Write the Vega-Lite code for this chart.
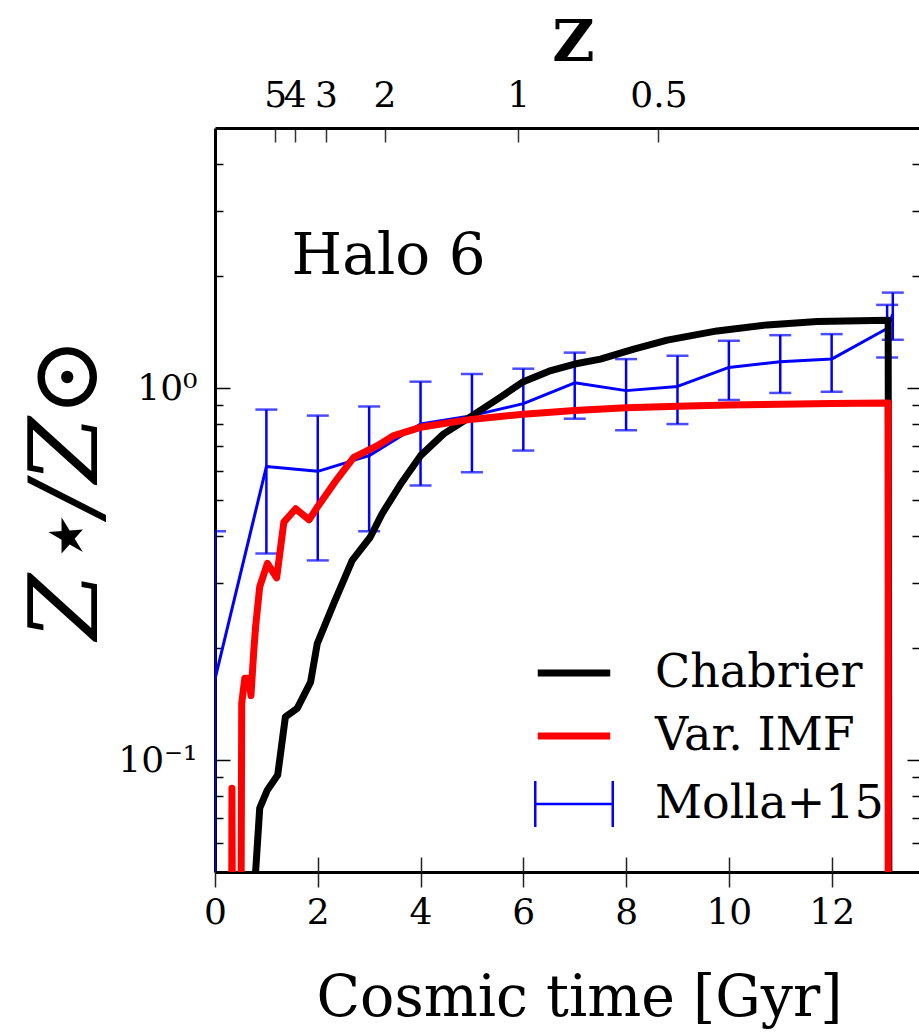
{
  "$schema": "https://vega.github.io/schema/vega-lite/v6.json",
  "width": 704,
  "height": 744,
  "autosize": {"type": "none"},
  "padding": {"left": 215, "top": 128, "right": 0, "bottom": 161},
  "background": "white",
  "config": {
    "view": {"stroke": null},
    "font": "DejaVu Serif",
    "axis": {"grid": false, "labelColor": "black", "titleColor": "black", "labelFont": "DejaVu Serif", "titleFont": "DejaVu Serif", "labelFlush": false, "labelOverlap": false, "titleFontWeight": "normal"}
  },
  "datasets": {
    "lines": [
      {"series": "Chabrier", "t": 0.75, "v": 0.02},
      {"series": "Chabrier", "t": 0.79, "v": 0.05},
      {"series": "Chabrier", "t": 0.87, "v": 0.0742},
      {"series": "Chabrier", "t": 1.02, "v": 0.0831},
      {"series": "Chabrier", "t": 1.22, "v": 0.0911},
      {"series": "Chabrier", "t": 1.37, "v": 0.1307},
      {"series": "Chabrier", "t": 1.6, "v": 0.1376},
      {"series": "Chabrier", "t": 1.86, "v": 0.162},
      {"series": "Chabrier", "t": 1.99, "v": 0.2056},
      {"series": "Chabrier", "t": 2.31, "v": 0.2633},
      {"series": "Chabrier", "t": 2.67, "v": 0.344},
      {"series": "Chabrier", "t": 3.02, "v": 0.397},
      {"series": "Chabrier", "t": 3.25, "v": 0.459},
      {"series": "Chabrier", "t": 3.61, "v": 0.551},
      {"series": "Chabrier", "t": 4.0, "v": 0.658},
      {"series": "Chabrier", "t": 4.45, "v": 0.753},
      {"series": "Chabrier", "t": 4.91, "v": 0.826},
      {"series": "Chabrier", "t": 5.55, "v": 0.944},
      {"series": "Chabrier", "t": 6.0, "v": 1.04},
      {"series": "Chabrier", "t": 6.5, "v": 1.11},
      {"series": "Chabrier", "t": 7.0, "v": 1.16},
      {"series": "Chabrier", "t": 7.5, "v": 1.196},
      {"series": "Chabrier", "t": 8.15, "v": 1.272},
      {"series": "Chabrier", "t": 8.8, "v": 1.345},
      {"series": "Chabrier", "t": 9.77, "v": 1.424},
      {"series": "Chabrier", "t": 10.74, "v": 1.478},
      {"series": "Chabrier", "t": 11.72, "v": 1.509},
      {"series": "Chabrier", "t": 13.1, "v": 1.522},
      {"series": "Chabrier", "t": 13.12, "v": 0.01},
      {"series": "Var. IMF", "t": 0.32, "v": 0.02},
      {"series": "Var. IMF", "t": 0.33, "v": 0.084},
      {"series": "Var. IMF", "t": 0.345, "v": 0.02},
      {"series": "Var. IMF", "t": 0.5, "v": 0.02},
      {"series": "Var. IMF", "t": 0.52, "v": 0.142},
      {"series": "Var. IMF", "t": 0.58, "v": 0.166},
      {"series": "Var. IMF", "t": 0.66, "v": 0.166},
      {"series": "Var. IMF", "t": 0.7, "v": 0.149},
      {"series": "Var. IMF", "t": 0.755, "v": 0.197},
      {"series": "Var. IMF", "t": 0.79, "v": 0.228},
      {"series": "Var. IMF", "t": 0.87, "v": 0.292},
      {"series": "Var. IMF", "t": 1.02, "v": 0.338},
      {"series": "Var. IMF", "t": 1.2, "v": 0.309},
      {"series": "Var. IMF", "t": 1.34, "v": 0.436},
      {"series": "Var. IMF", "t": 1.57, "v": 0.4735},
      {"series": "Var. IMF", "t": 1.83, "v": 0.4425},
      {"series": "Var. IMF", "t": 1.99, "v": 0.478},
      {"series": "Var. IMF", "t": 2.38, "v": 0.57},
      {"series": "Var. IMF", "t": 2.7, "v": 0.651},
      {"series": "Var. IMF", "t": 3.16, "v": 0.7},
      {"series": "Var. IMF", "t": 3.48, "v": 0.745},
      {"series": "Var. IMF", "t": 4.0, "v": 0.784},
      {"series": "Var. IMF", "t": 4.91, "v": 0.821},
      {"series": "Var. IMF", "t": 5.55, "v": 0.838},
      {"series": "Var. IMF", "t": 6.0, "v": 0.85},
      {"series": "Var. IMF", "t": 7.0, "v": 0.87},
      {"series": "Var. IMF", "t": 8.0, "v": 0.885},
      {"series": "Var. IMF", "t": 9.0, "v": 0.893},
      {"series": "Var. IMF", "t": 10.0, "v": 0.9},
      {"series": "Var. IMF", "t": 11.0, "v": 0.905},
      {"series": "Var. IMF", "t": 12.0, "v": 0.908},
      {"series": "Var. IMF", "t": 13.1, "v": 0.912},
      {"series": "Var. IMF", "t": 13.1, "v": 0.01}
    ],
    "molla": [
      {"series": "Molla+15", "t": 0, "v": 0.165, "lo": 0.02, "hi": 0.412},
      {"series": "Molla+15", "t": 1, "v": 0.615, "lo": 0.359, "hi": 0.875},
      {"series": "Molla+15", "t": 2, "v": 0.597, "lo": 0.344, "hi": 0.843},
      {"series": "Molla+15", "t": 3, "v": 0.658, "lo": 0.412, "hi": 0.892},
      {"series": "Molla+15", "t": 4, "v": 0.8, "lo": 0.547, "hi": 1.04},
      {"series": "Molla+15", "t": 5, "v": 0.843, "lo": 0.594, "hi": 1.09},
      {"series": "Molla+15", "t": 6, "v": 0.908, "lo": 0.679, "hi": 1.127},
      {"series": "Molla+15", "t": 7, "v": 1.033, "lo": 0.827, "hi": 1.245},
      {"series": "Molla+15", "t": 8, "v": 0.984, "lo": 0.77, "hi": 1.196},
      {"series": "Molla+15", "t": 9, "v": 1.01, "lo": 0.8, "hi": 1.221},
      {"series": "Molla+15", "t": 10, "v": 1.136, "lo": 0.929, "hi": 1.339},
      {"series": "Molla+15", "t": 11, "v": 1.177, "lo": 0.97, "hi": 1.387},
      {"series": "Molla+15", "t": 12, "v": 1.196, "lo": 0.977, "hi": 1.396},
      {"series": "Molla+15", "t": 13.08, "v": 1.445, "lo": 1.208, "hi": 1.673},
      {"series": "Molla+15", "t": 13.19, "v": 1.579, "lo": 1.348, "hi": 1.805}
    ]
  },
  "layer": [
    {
      "data": {"name": "molla"},
      "mark": {"type": "line", "strokeWidth": 3, "clip": true, "strokeJoin": "round"},
      "encoding": {
        "x": {"field": "t", "type": "quantitative", "scale": {"domain": [0, 13.7], "nice": false, "zero": false},
          "axis": {"orient": "bottom", "values": [0, 2, 4, 6, 8, 10, 12], "domain": true, "domainColor": "black", "domainWidth": 3, "ticks": true, "tickSize": 15, "tickColor": "#222", "tickWidth": 1.5, "labels": true, "labelFontSize": 36, "labelPadding": 8, "title": "Cosmic time [Gyr]", "titleFontSize": 57, "titleX": 364, "titleY": 143, "titleBaseline": "alphabetic", "titleAlign": "center"}},
        "y": {"field": "v", "type": "quantitative", "scale": {"type": "log", "domain": [0.05, 5], "nice": false},
          "axis": {"orient": "left", "values": [0.1, 1], "domain": true, "domainColor": "black", "domainWidth": 3, "ticks": false, "labelExpr": "datum.value < 0.5 ? '10⁻¹' : '10⁰'", "labelFontSize": 36, "labelPadding": 18, "title": "Z⋆/Z⊙", "titleFontSize": 95, "titleFontStyle": "italic", "titleX": -119, "titleY": 360, "titleBaseline": "alphabetic", "titleAlign": "center", "titleAngle": 270}},
        "color": {"field": "series", "type": "nominal", "scale": {"domain": ["Chabrier", "Var. IMF", "Molla+15"], "range": ["black", "red", "blue"]},
          "legend": {"orient": "none", "legendX": 336, "legendY": 522, "title": null, "padding": 0, "symbolSize": 2500, "symbolStrokeWidth": 7, "symbolType": "stroke", "labelFontSize": 46, "labelFont": "DejaVu Serif", "labelColor": "black", "labelOffset": 58, "rowPadding": 17, "labelLimit": 500, "labelBaseline": "middle",
            "encode": {"symbols": {"update": {
              "shape": {"signal": "datum.value === 'Molla+15' ? 'M-1.55,0L1.55,0M-1.55,-0.92L-1.55,0.92M1.55,-0.92L1.55,0.92' : 'M-1.45,0L1.45,0'"},
              "strokeWidth": {"signal": "datum.value === 'Molla+15' ? 2.5 : 7"},
              "fill": {"value": "transparent"}}}}}}
      }
    },
    {
      "data": {"name": "molla"},
      "mark": {"type": "rule", "color": "blue", "strokeWidth": 2.5, "clip": true},
      "encoding": {
        "x": {"field": "t", "type": "quantitative", "scale": {"domain": [0, 13.7], "nice": false, "zero": false},
          "axis": {"orient": "top", "values": [1.17, 1.55, 2.16, 3.3, 5.9, 8.63], "domain": false, "labels": false, "ticks": true, "tickSize": 14, "offset": -14, "tickColor": "#333", "tickWidth": 1.5, "title": null}},
        "y": {"field": "lo", "type": "quantitative", "scale": {"type": "log", "domain": [0.05, 5], "nice": false},
          "axis": {"orient": "right", "values": [0.1, 1], "domain": false, "labels": false, "ticks": true, "tickSize": 12, "offset": -12, "tickColor": "black", "tickWidth": 1.5, "title": null}},
        "y2": {"field": "hi"}
      }
    },
    {
      "data": {"name": "molla"},
      "mark": {"type": "tick", "orient": "horizontal", "color": "blue", "size": 22, "thickness": 2.5, "clip": true},
      "encoding": {
        "x": {"field": "t", "type": "quantitative", "scale": {"domain": [0, 13.7], "nice": false, "zero": false}, "axis": null},
        "y": {"field": "hi", "type": "quantitative", "scale": {"type": "log", "domain": [0.05, 5], "nice": false},
          "axis": {"orient": "right", "values": [0.06, 0.07, 0.08, 0.09, 0.2, 0.3, 0.4, 0.5, 0.6, 0.7, 0.8, 0.9, 2, 3, 4], "domain": false, "labels": false, "ticks": true, "tickSize": 7, "offset": -7, "tickColor": "black", "tickWidth": 1.5, "title": null}}
      }
    },
    {
      "data": {"name": "molla"},
      "mark": {"type": "tick", "orient": "horizontal", "color": "blue", "size": 22, "thickness": 2.5, "clip": true},
      "encoding": {
        "x": {"field": "t", "type": "quantitative", "scale": {"domain": [0, 13.7], "nice": false, "zero": false}, "axis": null},
        "y": {"field": "lo", "type": "quantitative", "scale": {"type": "log", "domain": [0.05, 5], "nice": false}, "axis": null}
      }
    },
    {
      "data": {"name": "lines"},
      "transform": [{"filter": "datum.series === 'Chabrier'"}],
      "mark": {"type": "line", "strokeWidth": 7, "clip": true, "strokeJoin": "round"},
      "encoding": {
        "x": {"field": "t", "type": "quantitative", "scale": {"domain": [0, 13.7], "nice": false, "zero": false},
          "axis": {"orient": "bottom", "values": [2, 4, 6, 8, 10, 12], "domain": false, "labels": false, "ticks": true, "tickSize": 15, "offset": -15, "tickColor": "#222", "tickWidth": 1.5, "title": null}},
        "y": {"field": "v", "type": "quantitative", "scale": {"type": "log", "domain": [0.05, 5], "nice": false},
          "axis": {"orient": "left", "values": [0.1, 1], "domain": false, "labels": false, "ticks": true, "tickSize": 15, "offset": -15, "tickColor": "black", "tickWidth": 1.5, "title": null}},
        "color": {"field": "series", "type": "nominal", "scale": {"domain": ["Chabrier", "Var. IMF", "Molla+15"], "range": ["black", "red", "blue"]}, "legend": null}
      }
    },
    {
      "data": {"name": "lines"},
      "transform": [{"filter": "datum.series === 'Var. IMF'"}],
      "mark": {"type": "line", "strokeWidth": 7, "clip": true, "strokeJoin": "round"},
      "encoding": {
        "x": {"field": "t", "type": "quantitative", "scale": {"domain": [0, 13.7], "nice": false, "zero": false},
          "axis": {"orient": "top", "values": [1.17, 1.55, 2.16, 3.3, 5.9, 8.63], "domain": true, "domainColor": "black", "domainWidth": 3, "ticks": false, "labelExpr": "['5','4','3','2','1','0.5'][indexof([1.17, 1.55, 2.16, 3.3, 5.9, 8.63], datum.value)]", "labelFontSize": 36, "labelPadding": 22, "labelBaseline": "alphabetic", "title": "Z", "titleFontSize": 58, "titleFontWeight": "bold", "titleX": 358, "titleY": -68, "titleBaseline": "alphabetic", "titleAlign": "center"}},
        "y": {"field": "v", "type": "quantitative", "scale": {"type": "log", "domain": [0.05, 5], "nice": false},
          "axis": {"orient": "left", "values": [0.06, 0.07, 0.08, 0.09, 0.2, 0.3, 0.4, 0.5, 0.6, 0.7, 0.8, 0.9, 2, 3, 4], "domain": false, "labels": false, "ticks": true, "tickSize": 8, "offset": -8, "tickColor": "black", "tickWidth": 1.5, "title": null}},
        "color": {"field": "series", "type": "nominal", "scale": {"domain": ["Chabrier", "Var. IMF", "Molla+15"], "range": ["black", "red", "blue"]}, "legend": null}
      }
    },
    {
      "data": {"values": [{}]},
      "mark": {"type": "text", "text": "Halo 6", "align": "left", "baseline": "alphabetic", "fontSize": 58, "font": "DejaVu Serif", "color": "black"},
      "encoding": {
        "x": {"datum": 1.49, "type": "quantitative", "scale": {"domain": [0, 13.7], "nice": false, "zero": false}, "axis": null},
        "y": {"datum": 2.03, "type": "quantitative", "scale": {"type": "log", "domain": [0.05, 5], "nice": false}, "axis": null}
      }
    }
  ],
  "resolve": {"axis": {"x": "independent", "y": "independent"}}
}
